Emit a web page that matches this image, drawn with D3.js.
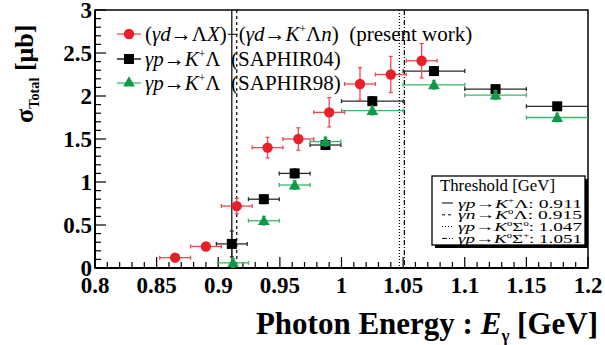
<!DOCTYPE html>
<meta charset="utf-8">
<style>
  body { margin: 0; background: #fff; }
  text { font-family: "Liberation Serif", "Times New Roman", serif; }
</style>
<script src="https://d3js.org/d3.v7.min.js"></script>
<body>
<script>

// present work (red circles)
var redX = [0.865, 0.890, 0.915, 0.940, 0.965, 0.990, 1.015, 1.040, 1.065];
var redY = [0.12, 0.25, 0.72, 1.40, 1.50, 1.81, 2.14, 2.25, 2.41];
var redYErr = [0.03, 0.04, 0.09, 0.12, 0.13, 0.17, 0.19, 0.21, 0.20];
var redXErr = [0.0125, 0.0125, 0.0125, 0.0125, 0.0125, 0.0125, 0.0125, 0.0125, 0.0125];

// SAPHIR04 (black squares)
var blackX = [0.911, 0.937, 0.962, 0.987, 1.025, 1.075, 1.125, 1.175];
var blackY = [0.28, 0.80, 1.10, 1.43, 1.94, 2.29, 2.08, 1.88];
var blackYErr = [0.15, 0.05, 0.05, 0.05, 0.05, 0.05, 0.04, 0.04];
var blackXErr = [0.0125, 0.0125, 0.0125, 0.0125, 0.025, 0.025, 0.025, 0.025];

// SAPHIR98 (green triangles)
var greenX = [0.912, 0.937, 0.962, 0.987, 1.025, 1.075, 1.125, 1.175];
var greenY = [0.06, 0.55, 0.965, 1.47, 1.83, 2.13, 2.01, 1.75];
var greenYErr = [0.05, 0.05, 0.05, 0.05, 0.05, 0.05, 0.05, 0.05];
var greenXErr = [0.0125, 0.0125, 0.0125, 0.0125, 0.025, 0.025, 0.025, 0.025];

// thresholds
var thrValues = [0.911, 0.915, 1.047, 1.051];
var thrDash = [null, "3,3", "1,2", "5,2,1,2"];

var xTicks = [0.8, 0.85, 0.9, 0.95, 1, 1.05, 1.1, 1.15, 1.2];
var yTicks = [0, 0.5, 1, 1.5, 2, 2.5, 3];

var width = 605, height = 345;
var pl = 95, pr = 588, pt = 10, pb = 268;

var svg = d3.select("body").append("svg")
    .attr("width", width)
    .attr("height", height);

var x = d3.scaleLinear().domain([0.8, 1.2]).range([pl, pr]);
var y = d3.scaleLinear().domain([0, 3]).range([pb, pt]);

// rich text helper: segments {t, i, sup, sub}
function rich(sel, segs, size) {
  var back = 0;
  segs.forEach(function(s) {
    var ts = sel.append("tspan").text(s.t);
    var dy = back;
    back = 0;
    if (s.i) ts.attr("font-style", "italic");
    if (s.sup) { ts.attr("font-size", size * 0.55); dy += -size * 0.38; back = size * 0.38; }
    if (s.sub) { ts.attr("font-size", size * 0.55); dy += size * 0.22; back = -size * 0.22; }
    if (dy) ts.attr("dy", dy);
  });
}

// threshold lines
thrValues.forEach(function(v, i) {
  svg.append("line")
    .attr("x1", x(v)).attr("x2", x(v))
    .attr("y1", pt).attr("y2", pb)
    .attr("stroke", "#000").attr("stroke-width", 1.2)
    .attr("stroke-dasharray", thrDash[i]);
});

// frame
svg.append("rect")
  .attr("x", pl).attr("y", pt)
  .attr("width", pr - pl).attr("height", pb - pt)
  .attr("fill", "none").attr("stroke", "#000").attr("stroke-width", 1.5);

// ticks (inside)
d3.range(0, 41).forEach(function(k) {
  var v = 0.8 + k * 0.01;
  var major = k % 5 == 0;
  svg.append("line")
    .attr("x1", x(v)).attr("x2", x(v))
    .attr("y1", pb).attr("y2", pb - (major ? 11 : 6))
    .attr("stroke", "#000").attr("stroke-width", 1.2);
});
d3.range(0, 31).forEach(function(k) {
  var v = k * 0.1;
  var major = k % 5 == 0;
  svg.append("line")
    .attr("x1", pl).attr("x2", pl + (major ? 11 : 6))
    .attr("y1", y(v)).attr("y2", y(v))
    .attr("stroke", "#000").attr("stroke-width", 1.2);
});
svg.append("line").attr("x1", pl).attr("x2", pr).attr("y1", pb).attr("y2", pb)
  .attr("stroke", "#000").attr("stroke-width", 2);
svg.append("line").attr("x1", pl).attr("x2", pl).attr("y1", pt).attr("y2", pb)
  .attr("stroke", "#000").attr("stroke-width", 2);

// tick labels
svg.selectAll(".xlab").data(xTicks).enter().append("text")
  .attr("x", function(d) { return x(d); })
  .attr("y", 293)
  .attr("text-anchor", "middle")
  .attr("font-size", 23).attr("font-weight", "bold")
  .text(function(d) { return d3.format("")(d); });

svg.selectAll(".ylab").data(yTicks).enter().append("text")
  .attr("x", 92)
  .attr("y", function(d) { return y(d) + 7.5; })
  .attr("text-anchor", "end")
  .attr("font-size", 23).attr("font-weight", "bold")
  .text(function(d) { return d3.format("")(d); });

// axis titles
var xt = svg.append("text")
  .attr("x", 598).attr("y", 334)
  .attr("text-anchor", "end")
  .attr("font-size", 31).attr("font-weight", "bold");
rich(xt, [{t: "Photon Energy : "}, {t: "E", i: true}, {t: "\u03b3", sub: true}, {t: " [GeV]"}], 31);

var yt = svg.append("text")
  .attr("transform", "translate(33,123) rotate(-90)")
  .attr("font-size", 26).attr("font-weight", "bold");
rich(yt, [{t: "\u03c3"}, {t: "Total", sub: true}, {t: " [\u03bcb]"}], 26);

// error bars + markers
function errorBars(xs, ys, xe, ye, color) {
  var g = svg.append("g").attr("stroke", color).attr("stroke-width", 1.3);
  xs.forEach(function(d, i) {
    var cx = x(d), cy = y(ys[i]);
    var x0 = x(d - xe[i]), x1 = Math.min(x(d + xe[i]), pr);
    var y0 = y(ys[i] - ye[i]), y1 = y(ys[i] + ye[i]);
    g.append("line").attr("x1", x0).attr("x2", x1).attr("y1", cy).attr("y2", cy);
    g.append("line").attr("x1", cx).attr("x2", cx).attr("y1", y0).attr("y2", y1);
    g.append("line").attr("x1", x0).attr("x2", x0).attr("y1", cy - 2).attr("y2", cy + 2);
    if (x1 < pr) g.append("line").attr("x1", x1).attr("x2", x1).attr("y1", cy - 2).attr("y2", cy + 2);
    g.append("line").attr("x1", cx - 2).attr("x2", cx + 2).attr("y1", y0).attr("y2", y0);
    g.append("line").attr("x1", cx - 2).attr("x2", cx + 2).attr("y1", y1).attr("y2", y1);
  });
}

var sqr = d3.symbol().type(d3.symbolSquare).size(100);
var tri = d3.symbol().type(d3.symbolTriangle).size(60);
var cir = d3.symbol().type(d3.symbolCircle).size(85);

errorBars(blackX, blackY, blackXErr, blackYErr, "#2a2a2a");
svg.selectAll(".blk").data(blackX).enter().append("path")
  .attr("d", sqr).attr("fill", "#000")
  .attr("transform", function(d, i) { return "translate(" + x(d) + "," + y(blackY[i]) + ")"; });

errorBars(greenX, greenY, greenXErr, greenYErr, "#3cb56e");
svg.selectAll(".grn").data(greenX).enter().append("path")
  .attr("d", tri).attr("fill", "#0f9a4a")
  .attr("transform", function(d, i) { return "translate(" + x(d) + "," + (y(greenY[i]) + 1) + ")"; });

errorBars(redX, redY, redXErr, redYErr, "#ee4a52");
svg.selectAll(".red").data(redX).enter().append("path")
  .attr("d", cir).attr("fill", "#e8202a")
  .attr("transform", function(d, i) { return "translate(" + x(d) + "," + y(redY[i]) + ")"; });

// data legend (top left)
var arrow = "\u2192";
var sp = "\u00a0\u00a0";
var legItems = [
  {sym: cir, fill: "#e8202a", line: "#ee4a52", y: 34,
   segs: [{t: "("}, {t: "\u03b3d", i: true}, {t: arrow + "\u039b"}, {t: "X", i: true}, {t: ")\u2212("},
          {t: "\u03b3d", i: true}, {t: arrow}, {t: "K", i: true}, {t: "+", sup: true}, {t: "\u039b"},
          {t: "n", i: true}, {t: ")" + sp + "(present work)"}]},
  {sym: sqr, fill: "#000", line: "#000", y: 59,
   segs: [{t: "\u03b3p", i: true}, {t: arrow}, {t: "K", i: true}, {t: "+", sup: true}, {t: "\u039b" + sp + "(SAPHIR04)"}]},
  {sym: tri, fill: "#0f9a4a", line: "#3cb56e", y: 83,
   segs: [{t: "\u03b3p", i: true}, {t: arrow}, {t: "K", i: true}, {t: "+", sup: true}, {t: "\u039b" + sp + "(SAPHIR98)"}]}
];
legItems.forEach(function(it) {
  svg.append("line").attr("x1", 117).attr("x2", 141).attr("y1", it.y).attr("y2", it.y)
    .attr("stroke", it.line).attr("stroke-width", 1.3);
  svg.append("path").attr("d", it.sym).attr("fill", it.fill)
    .attr("transform", "translate(129," + it.y + ")");
  var t = svg.append("text").attr("x", 145).attr("y", it.y + 7).attr("font-size", 21);
  rich(t, it.segs, 21);
});

// threshold legend box
svg.append("rect").attr("x", 435).attr("y", 179).attr("width", 153).attr("height", 69).attr("fill", "#000");
svg.append("rect").attr("x", 432).attr("y", 176).attr("width", 153).attr("height", 69)
  .attr("fill", "#fff").attr("stroke", "#000").attr("stroke-width", 1.3);
svg.append("text").attr("x", 440).attr("y", 191).attr("font-size", 16)
  .attr("textLength", 115).attr("lengthAdjust", "spacingAndGlyphs")
  .text("Threshold [GeV]");

var thrLabels = [
  [{t: "\u03b3p", i: true}, {t: arrow}, {t: "K", i: true}, {t: "+", sup: true}, {t: "\u039b: 0.911"}],
  [{t: "\u03b3n", i: true}, {t: arrow}, {t: "K", i: true}, {t: "0", sup: true}, {t: "\u039b: 0.915"}],
  [{t: "\u03b3p", i: true}, {t: arrow}, {t: "K", i: true}, {t: "0", sup: true}, {t: "\u03a3"}, {t: "0", sup: true}, {t: ": 1.047"}],
  [{t: "\u03b3p", i: true}, {t: arrow}, {t: "K", i: true}, {t: "0", sup: true}, {t: "\u03a3"}, {t: "+", sup: true}, {t: ": 1.051"}]
];
thrLabels.forEach(function(segs, i) {
  var ly = 203 + i * 11.8;
  svg.append("line").attr("x1", 442).attr("x2", 453).attr("y1", ly).attr("y2", ly)
    .attr("stroke", "#000").attr("stroke-width", 1).attr("stroke-dasharray", thrDash[i]);
  var t = svg.append("text").attr("x", 458).attr("y", ly + 4.5).attr("font-size", 13)
    .attr("textLength", 124).attr("lengthAdjust", "spacingAndGlyphs");
  rich(t, segs, 13);
});

</script>
</body>
